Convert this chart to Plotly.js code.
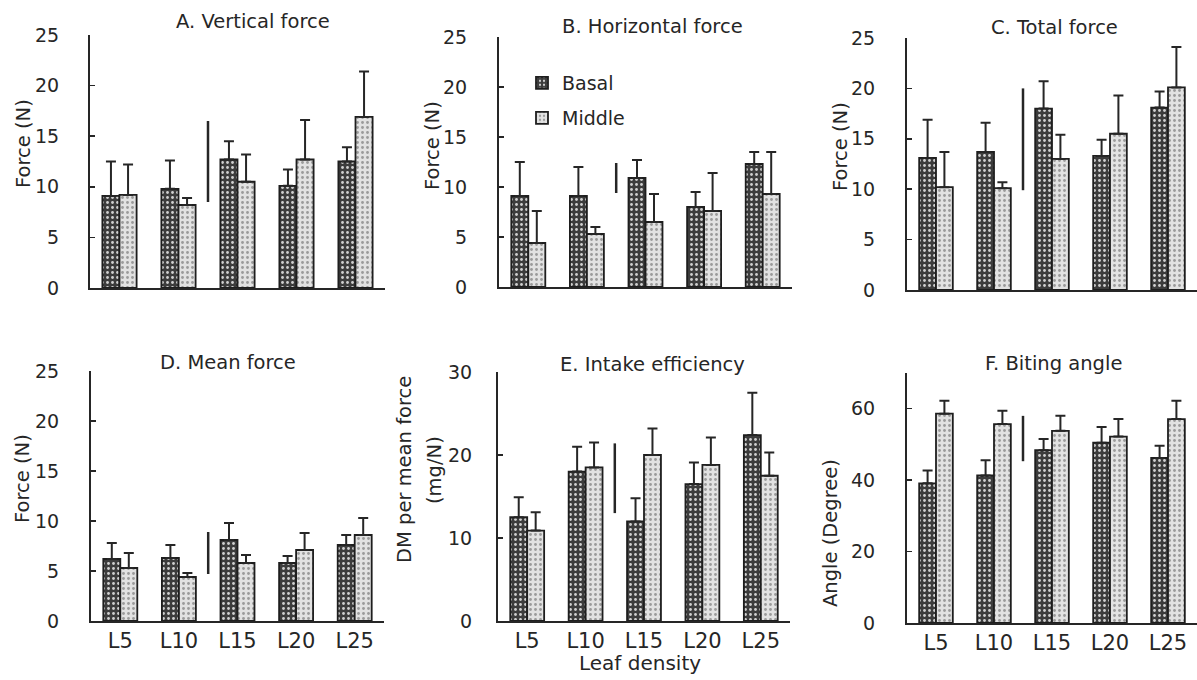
<!DOCTYPE html>
<html>
<head>
<meta charset="utf-8">
<script src="https://cdn.plot.ly/plotly-3.0.1.min.js"></script>
<style>html,body{margin:0;padding:0;background:#fff;}#chart{width:1197px;height:680px;}</style>
</head>
<body>
<div id="chart"></div>
<script>
// ---- data ----
const categories = ['L5', 'L10', 'L15', 'L20', 'L25'];

const vertBasal = [9.1, 9.8, 12.7, 10.1, 12.5];
const vertBasalErr = [3.4, 2.8, 1.8, 1.6, 1.4];
const vertMiddle = [9.2, 8.2, 10.5, 12.7, 16.9];
const vertMiddleErr = [3.0, 0.7, 2.7, 3.9, 4.5];

const horBasal = [9.1, 9.1, 10.9, 8.0, 12.3];
const horBasalErr = [3.4, 2.9, 1.8, 1.5, 1.2];
const horMiddle = [4.4, 5.3, 6.5, 7.6, 9.3];
const horMiddleErr = [3.2, 0.7, 2.8, 3.8, 4.2];

const totBasal = [13.1, 13.7, 18.0, 13.3, 18.1];
const totBasalErr = [3.8, 2.9, 2.7, 1.6, 1.6];
const totMiddle = [10.2, 10.1, 13.0, 15.5, 20.1];
const totMiddleErr = [3.5, 0.6, 2.4, 3.8, 4.0];

const meanBasal = [6.2, 6.3, 8.1, 5.8, 7.6];
const meanBasalErr = [1.6, 1.3, 1.7, 0.7, 1.0];
const meanMiddle = [5.3, 4.4, 5.8, 7.1, 8.6];
const meanMiddleErr = [1.5, 0.4, 0.8, 1.7, 1.7];

const effBasal = [12.5, 18.0, 12.0, 16.5, 22.4];
const effBasalErr = [2.4, 3.0, 2.8, 2.6, 5.1];
const effMiddle = [10.9, 18.5, 20.0, 18.8, 17.5];
const effMiddleErr = [2.2, 3.0, 3.2, 3.3, 2.8];

const angBasal = [39.1, 41.3, 48.4, 50.5, 46.2];
const angBasalErr = [3.6, 4.3, 3.1, 4.4, 3.4];
const angMiddle = [58.6, 55.7, 53.8, 52.2, 57.1];
const angMiddleErr = [3.6, 3.7, 4.2, 4.9, 5.1];

// vertical separator line (between L10 and L15) low/high values per panel
const sepA = [8.5, 16.5];
const sepB = [9.4, 12.4];
const sepC = [9.9, 20.0];
const sepD = [4.7, 8.9];
const sepE = [13.0, 21.4];
const sepF = [45.3, 58.0];

const panelTitles = ['A. Vertical force', 'B. Horizontal force', 'C. Total force',
                     'D. Mean force', 'E. Intake efficiency', 'F. Biting angle'];
const seriesNames = ['Basal', 'Middle'];

// ---- layout helpers (pixel -> paper) ----
const W = 1197, H = 680;
const px = v => v / W;
const py = v => 1 - v / H;
const FONT = 'DejaVu Sans';
const TXT = '#262626';

const panels = [
  {b: vertBasal, be: vertBasalErr, m: vertMiddle, me: vertMiddleErr, sep: sepA,
   xd: [90, 385], yd: [288, 35], range: [0, 25], dtick: 5, standoff: 25, bottom: false},
  {b: horBasal, be: horBasalErr, m: horMiddle, me: horMiddleErr, sep: sepB,
   xd: [499, 792], yd: [287, 37], range: [0, 25], dtick: 5, standoff: 26, bottom: false},
  {b: totBasal, be: totBasalErr, m: totMiddle, me: totMiddleErr, sep: sepC,
   xd: [907, 1197], yd: [290, 38], range: [0, 25], dtick: 5, standoff: 26, bottom: false},
  {b: meanBasal, be: meanBasalErr, m: meanMiddle, me: meanMiddleErr, sep: sepD,
   xd: [91, 384], yd: [621, 371], range: [0, 25], dtick: 5, standoff: 26, bottom: true},
  {b: effBasal, be: effBasalErr, m: effMiddle, me: effMiddleErr, sep: sepE,
   xd: [498, 790], yd: [621, 372], range: [0, 30], dtick: 10, standoff: 20, bottom: true},
  {b: angBasal, be: angBasalErr, m: angMiddle, me: angMiddleErr, sep: sepF,
   xd: [907, 1197], yd: [623, 373], range: [0, 70], dtick: 20, standoff: 26, bottom: true}
];

const titlePos = [[253, 21], [652, 27], [1054, 28], [228, 362], [652, 364], [1053, 363]];
const ytitlePos = [[23, 144, 'Force (N)'], [432, 146, 'Force (N)'], [840, 147, 'Force (N)'],
                   [22, 479, 'Force (N)'], [830, 533, 'Angle (Degree)']];

const basalPattern = {shape: '.', bgcolor: '#3c3c3c', fgcolor: '#d0d0d0', size: 5, solidity: 0.25};
const middlePattern = {shape: '.', bgcolor: '#e2e2e2', fgcolor: '#9a9a9a', size: 5, solidity: 0.25};

const zeros = categories.map(() => 0);
const traces = [];
const layout = {
  width: W, height: H,
  margin: {l: 0, r: 0, t: 0, b: 0},
  paper_bgcolor: '#fff', plot_bgcolor: '#fff',
  barmode: 'group', bargap: 0.42, bargroupgap: 0,
  font: {family: FONT, color: TXT, size: 18},
  showlegend: true,
  legend: {x: px(522), y: py(64), xanchor: 'left', yanchor: 'top', bgcolor: 'rgba(0,0,0,0)',
           font: {size: 19, family: FONT, color: TXT}, itemwidth: 30},
  legend2: {x: px(522), y: py(99), xanchor: 'left', yanchor: 'top', bgcolor: 'rgba(0,0,0,0)',
            font: {size: 19, family: FONT, color: TXT}, itemwidth: 30},
  shapes: [],
  annotations: []
};

panels.forEach((p, i) => {
  const n = i + 1;
  const xa = n === 1 ? 'x' : 'x' + n;
  const ya = n === 1 ? 'y' : 'y' + n;
  traces.push({
    type: 'bar', x: categories, y: p.b, name: seriesNames[0], xaxis: xa, yaxis: ya,
    marker: {color: '#3c3c3c', pattern: basalPattern, line: {color: '#1e1e1e', width: 1.8}},
    error_y: {type: 'data', symmetric: false, array: p.be, arrayminus: zeros, color: '#262626', thickness: 2, width: 5},
    showlegend: n === 2, legend: 'legend'
  });
  traces.push({
    type: 'bar', x: categories, y: p.m, name: seriesNames[1], xaxis: xa, yaxis: ya,
    marker: {color: '#e2e2e2', pattern: middlePattern, line: {color: '#1e1e1e', width: 1.8}},
    error_y: {type: 'data', symmetric: false, array: p.me, arrayminus: zeros, color: '#262626', thickness: 2, width: 5},
    showlegend: n === 2, legend: 'legend2'
  });
  const xkey = n === 1 ? 'xaxis' : 'xaxis' + n;
  const ykey = n === 1 ? 'yaxis' : 'yaxis' + n;
  layout[xkey] = {
    domain: [px(p.xd[0]), px(p.xd[1])], anchor: ya, type: 'category',
    range: [-0.5, 4.5], showline: true, linecolor: '#262626', linewidth: 2,
    ticks: '', showgrid: false, zeroline: false,
    showticklabels: p.bottom, tickfont: {size: 21, family: FONT, color: TXT}
  };
  layout[ykey] = {
    domain: [py(p.yd[0]), py(p.yd[1])], anchor: xa, range: p.range, dtick: p.dtick,
    showline: true, linecolor: '#262626', linewidth: 2, ticks: 'inside', ticklen: 5,
    tickwidth: 1.5, tickcolor: '#262626', showgrid: false, zeroline: false,
    tickfont: {size: 19, family: FONT, color: TXT}, ticklabelstandoff: p.standoff
  };
  layout.shapes.push({type: 'line', xref: xa, yref: ya, x0: 1.5, x1: 1.5, y0: p.sep[0], y1: p.sep[1],
                      line: {color: '#262626', width: 2.5}});
  layout.annotations.push({text: panelTitles[i], xref: 'paper', yref: 'paper',
    x: px(titlePos[i][0]), y: py(titlePos[i][1]), xanchor: 'center', yanchor: 'middle',
    showarrow: false, font: {size: 19.5, family: FONT, color: TXT}});
});

ytitlePos.forEach(t => {
  layout.annotations.push({text: t[2], xref: 'paper', yref: 'paper', x: px(t[0]), y: py(t[1]),
    xanchor: 'center', yanchor: 'middle', textangle: -90, showarrow: false,
    font: {size: 19.5, family: FONT, color: TXT}});
});
layout.annotations.push({text: 'DM per mean force', xref: 'paper', yref: 'paper', x: px(404), y: py(470),
  xanchor: 'center', yanchor: 'middle', textangle: -90, showarrow: false, font: {size: 19.5, family: FONT, color: TXT}});
layout.annotations.push({text: '(mg/N)', xref: 'paper', yref: 'paper', x: px(434), y: py(470),
  xanchor: 'center', yanchor: 'middle', textangle: -90, showarrow: false, font: {size: 19.5, family: FONT, color: TXT}});
layout.annotations.push({text: 'Leaf density', xref: 'paper', yref: 'paper', x: px(640), y: py(663),
  xanchor: 'center', yanchor: 'middle', showarrow: false, font: {size: 20, family: FONT, color: TXT}});

Plotly.newPlot('chart', traces, layout, {staticPlot: true, displayModeBar: false});
</script>
</body>
</html>
